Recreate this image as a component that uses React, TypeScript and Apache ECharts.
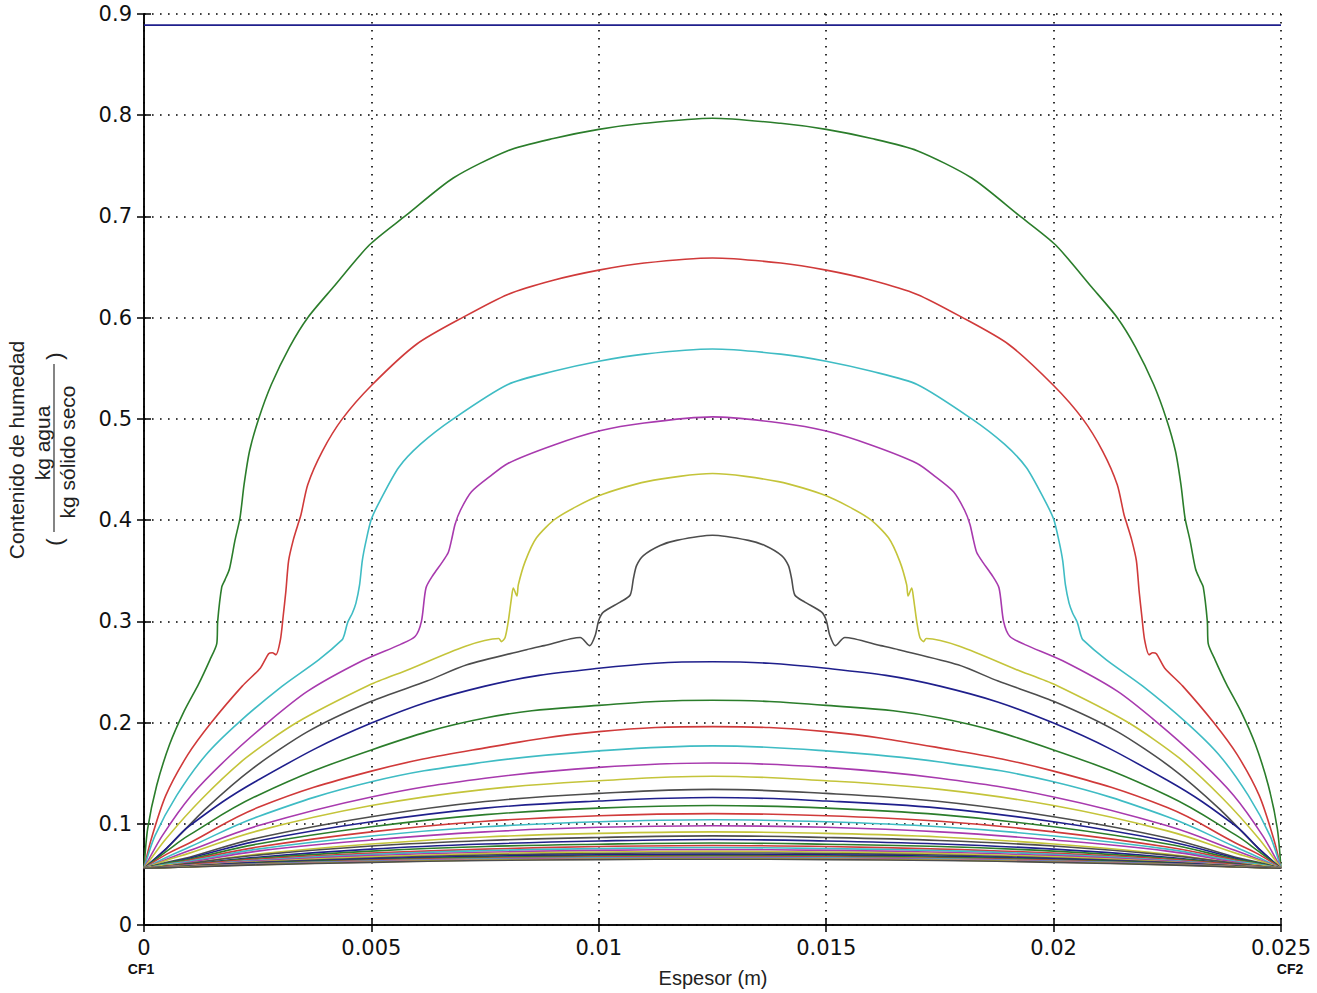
import React, { useEffect, useRef } from "react";
import * as echarts from "echarts";

// ---------- DATA ----------
const X_MAX = 0.025;
const Y_MAX = 0.9;

// Series colours (MATLAB-like cycle)
const COLORS = ["#1f1f8c", "#2b7d2b", "#d03a3a", "#3fbcc4", "#a83aae", "#c4c43a", "#4d4d4d"];

// Initial condition (flat line)
const INITIAL: number[][] = [[0, 0.889], [0.025, 0.889]];

// Half profiles (x from 0 to 0.0125); the profiles are symmetric about the centre
const GREEN_1: number[][] = [
  [0, 0.056], [0.00008, 0.095], [0.00028, 0.138], [0.00056, 0.178], [0.00088, 0.211],
  [0.0012, 0.238], [0.00145, 0.262], [0.0016, 0.278], [0.00162, 0.3], [0.00171, 0.334],
  [0.00178, 0.341], [0.00188, 0.352], [0.002, 0.38], [0.00211, 0.402], [0.0022, 0.435],
  [0.00232, 0.468], [0.00252, 0.5], [0.0028, 0.534], [0.0032, 0.571], [0.0036, 0.6],
  [0.00416, 0.63], [0.00496, 0.672], [0.00576, 0.701], [0.0068, 0.738], [0.008, 0.765],
  [0.009, 0.777], [0.01, 0.786], [0.011, 0.792], [0.0125, 0.797],
];
const RED_1: number[][] = [
  [0, 0.056], [0.00016, 0.085], [0.00048, 0.128], [0.00096, 0.168], [0.00148, 0.2],
  [0.00216, 0.236], [0.00256, 0.254], [0.00274, 0.268], [0.00282, 0.269], [0.0029, 0.267],
  [0.003, 0.282], [0.00306, 0.305], [0.00312, 0.33], [0.00318, 0.36], [0.00328, 0.38],
  [0.00338, 0.395], [0.00345, 0.405], [0.0036, 0.435], [0.00392, 0.468], [0.00436, 0.5],
  [0.005, 0.533], [0.006, 0.574], [0.00704, 0.601], [0.008, 0.623], [0.009, 0.637],
  [0.01, 0.647], [0.011, 0.654], [0.0125, 0.659],
];
const CYAN_1: number[][] = [
  [0, 0.056], [0.00024, 0.088], [0.00072, 0.128], [0.00136, 0.168], [0.00208, 0.2],
  [0.00304, 0.236], [0.00384, 0.262], [0.00436, 0.282], [0.0044, 0.286], [0.00448, 0.299],
  [0.00458, 0.308], [0.00466, 0.318], [0.00474, 0.336], [0.0048, 0.36], [0.00488, 0.379],
  [0.005, 0.401], [0.0052, 0.42], [0.0056, 0.452], [0.00608, 0.475], [0.0068, 0.5],
  [0.008, 0.534], [0.009, 0.547], [0.01, 0.557], [0.011, 0.564], [0.0125, 0.569],
];
const MAGENTA_1: number[][] = [
  [0, 0.056], [0.0004, 0.088], [0.00104, 0.128], [0.00184, 0.165], [0.00272, 0.2],
  [0.0036, 0.231], [0.0048, 0.261], [0.00563, 0.277], [0.00596, 0.285], [0.0061, 0.3],
  [0.0062, 0.333], [0.00636, 0.346], [0.00655, 0.358], [0.00669, 0.368], [0.00676, 0.38],
  [0.00684, 0.396], [0.00696, 0.41], [0.0072, 0.428], [0.0076, 0.443], [0.008, 0.456],
  [0.009, 0.474], [0.01, 0.488], [0.011, 0.496], [0.0125, 0.502],
];
const YELLOW_1: number[][] = [
  [0, 0.056], [0.00048, 0.085], [0.00128, 0.125], [0.00224, 0.165], [0.00336, 0.2],
  [0.005, 0.238], [0.00563, 0.249], [0.0078, 0.283], [0.00786, 0.28], [0.00794, 0.284],
  [0.00801, 0.3], [0.00808, 0.323], [0.00812, 0.333], [0.0082, 0.325], [0.00823, 0.336],
  [0.00838, 0.359], [0.00863, 0.3825], [0.00907, 0.402], [0.01, 0.424], [0.01105, 0.438],
  [0.0125, 0.446],
];
const GRAY_1: number[][] = [
  [0, 0.056], [0.00048, 0.075], [0.00136, 0.115], [0.0024, 0.155], [0.0036, 0.191],
  [0.005, 0.221], [0.00622, 0.241], [0.0071, 0.257], [0.00841, 0.272], [0.0088, 0.276],
  [0.00959, 0.284], [0.0098, 0.276], [0.00992, 0.286], [0.01, 0.301], [0.0101, 0.309],
  [0.01047, 0.319], [0.01069, 0.326], [0.01076, 0.342], [0.01083, 0.355], [0.01098, 0.365],
  [0.01135, 0.375], [0.01171, 0.38], [0.0125, 0.385],
];

// Lower (later-time) profiles, sampled at common x positions (half profile)
const LOWER_X = [0, 0.0005, 0.001, 0.0025, 0.005, 0.0075, 0.01, 0.0125];
const LOWER_VALUES: number[][] = [
  [0.056, 0.076, 0.098, 0.143, 0.1995, 0.236, 0.2536, 0.26],
  [0.056, 0.073, 0.089, 0.128, 0.173, 0.2045, 0.217, 0.222],
  [0.056, 0.07, 0.081, 0.116, 0.152, 0.175, 0.191, 0.196],
  [0.056, 0.067, 0.077, 0.107, 0.1415, 0.161, 0.172, 0.177],
  [0.056, 0.065, 0.0735, 0.098, 0.1265, 0.145, 0.1557, 0.16],
  [0.056, 0.064, 0.071, 0.093, 0.118, 0.134, 0.1425, 0.147],
  [0.056, 0.062, 0.067, 0.086, 0.107, 0.122, 0.13, 0.134],
  [0.056, 0.061, 0.066, 0.083, 0.102, 0.1155, 0.1225, 0.126],
  [0.056, 0.061, 0.065, 0.08, 0.097, 0.109, 0.1155, 0.118],
  [0.056, 0.06, 0.064, 0.077, 0.092, 0.1025, 0.108, 0.11],
  [0.056, 0.06, 0.063, 0.075, 0.088, 0.097, 0.102, 0.104],
  [0.056, 0.059, 0.062, 0.073, 0.084, 0.092, 0.0965, 0.098],
  [0.056, 0.059, 0.061, 0.07, 0.08, 0.087, 0.0905, 0.092],
  [0.056, 0.058, 0.061, 0.069, 0.078, 0.0835, 0.0865, 0.088],
  [0.056, 0.058, 0.06, 0.067, 0.075, 0.08, 0.083, 0.0845],
  [0.056, 0.058, 0.06, 0.066, 0.073, 0.0775, 0.0798, 0.081],
  [0.056, 0.058, 0.0595, 0.065, 0.071, 0.075, 0.0775, 0.0785],
  [0.056, 0.0575, 0.059, 0.064, 0.0698, 0.0735, 0.0755, 0.0765],
  [0.056, 0.0575, 0.059, 0.0633, 0.0685, 0.0718, 0.0737, 0.0745],
  [0.056, 0.0573, 0.0585, 0.0625, 0.0673, 0.0705, 0.0721, 0.0728],
  [0.056, 0.0572, 0.0583, 0.0619, 0.0662, 0.0691, 0.0706, 0.0712],
  [0.056, 0.0571, 0.0581, 0.0614, 0.0653, 0.0679, 0.0693, 0.0698],
  [0.056, 0.057, 0.0579, 0.0609, 0.0645, 0.0669, 0.0681, 0.0686],
  [0.056, 0.0569, 0.0577, 0.0605, 0.0638, 0.066, 0.0672, 0.0676],
  [0.056, 0.0568, 0.0576, 0.0602, 0.0632, 0.0653, 0.0664, 0.0668],
  [0.056, 0.0568, 0.0575, 0.0599, 0.0627, 0.0647, 0.0657, 0.0661],
  [0.056, 0.0567, 0.0574, 0.0596, 0.0623, 0.0642, 0.0651, 0.0655],
  [0.056, 0.0567, 0.0573, 0.0594, 0.0619, 0.0637, 0.0646, 0.065],
];

const X_TICKS_FMT = (v: number) => String(parseFloat(v.toFixed(4)));

// ---------- HELPERS ----------
function mirror(half: number[][]): number[][] {
  const back = half
    .slice(0, -1)
    .reverse()
    .map(([x, y]) => [parseFloat((X_MAX - x).toFixed(6)), y]);
  return half.concat(back);
}

export default function App() {
  const ref = useRef<HTMLDivElement>(null);

  useEffect(() => {
    document.body.style.margin = "0";
    if (!ref.current) return;
    const chart = echarts.init(ref.current, undefined, { renderer: "svg" });

    const upper = [GREEN_1, RED_1, CYAN_1, MAGENTA_1, YELLOW_1, GRAY_1];
    const series: any[] = [];
    series.push({
      type: "line",
      data: INITIAL,
      showSymbol: false,
      lineStyle: { color: COLORS[0], width: 1.6 },
      itemStyle: { color: COLORS[0] },
    });
    upper.forEach((h, i) => {
      const c = COLORS[(i + 1) % COLORS.length];
      series.push({
        type: "line",
        data: mirror(h),
        showSymbol: false,
        smooth: 0.25,
        lineStyle: { color: c, width: 1.6 },
        itemStyle: { color: c },
      });
    });
    LOWER_VALUES.forEach((vals, i) => {
      const c = COLORS[(i + 7) % COLORS.length];
      const half = LOWER_X.map((x, j) => [x, vals[j]]);
      series.push({
        type: "line",
        data: mirror(half),
        showSymbol: false,
        smooth: 0.4,
        lineStyle: { color: c, width: 1.6 },
        itemStyle: { color: c },
      });
    });

    const tickFont = { fontFamily: "DejaVu Sans", fontSize: 21, color: "#111" };
    const axisLine = { show: true, lineStyle: { color: "#000", width: 1.5 } };
    const tick = { show: true, inside: true, length: 7, lineStyle: { color: "#000", width: 1.5 } };
    const split = { show: true, lineStyle: { color: "#000", width: 1.6, type: [1.6, 6.4] as any } };

    chart.setOption({
      animation: false,
      backgroundColor: "#fff",
      grid: { left: 144, right: 36, top: 14, bottom: 68, containLabel: false },
      xAxis: [
        {
          type: "value",
          min: 0,
          max: X_MAX,
          interval: 0.005,
          axisLine,
          axisTick: tick,
          splitLine: split,
          axisLabel: { ...tickFont, margin: 12, formatter: X_TICKS_FMT },
        },
        {
          type: "value",
          position: "top",
          min: 0,
          max: X_MAX,
          interval: 0.005,
          axisLine,
          axisTick: tick,
          splitLine: { show: false },
          axisLabel: { show: false },
        },
      ],
      yAxis: [
        {
          type: "value",
          min: 0,
          max: Y_MAX,
          interval: 0.1,
          axisLine,
          axisTick: tick,
          splitLine: split,
          axisLabel: { ...tickFont, margin: 12, formatter: (v: number) => String(parseFloat(v.toFixed(2))) },
        },
        {
          type: "value",
          position: "right",
          min: 0,
          max: Y_MAX,
          interval: 0.1,
          axisLine,
          axisTick: tick,
          splitLine: { show: false },
          axisLabel: { show: false },
        },
      ],
      series,
      graphic: [
        {
          type: "text",
          x: 713,
          y: 978,
          style: { text: "Espesor (m)", font: "20px 'Liberation Sans', Arial", fill: "#222", align: "center", verticalAlign: "middle" },
        },
        {
          type: "text",
          x: 141,
          y: 969,
          style: { text: "CF1", font: "bold 14px 'Liberation Sans', Arial", fill: "#111", align: "center", verticalAlign: "middle" },
        },
        {
          type: "text",
          x: 1290,
          y: 969,
          style: { text: "CF2", font: "bold 14px 'Liberation Sans', Arial", fill: "#111", align: "center", verticalAlign: "middle" },
        },
        {
          type: "text",
          x: 16,
          y: 450,
          rotation: Math.PI / 2,
          style: { text: "Contenido de humedad", font: "21px 'Liberation Sans', Arial", fill: "#222", align: "center", verticalAlign: "middle" },
        },
        {
          type: "text",
          x: 42,
          y: 443,
          rotation: Math.PI / 2,
          style: { text: "kg agua", font: "21px 'Liberation Sans', Arial", fill: "#222", align: "center", verticalAlign: "middle" },
        },
        {
          type: "text",
          x: 67,
          y: 452,
          rotation: Math.PI / 2,
          style: { text: "kg sólido seco", font: "21px 'Liberation Sans', Arial", fill: "#222", align: "center", verticalAlign: "middle" },
        },
        {
          type: "line",
          shape: { x1: 54, y1: 364, x2: 54, y2: 532 },
          style: { stroke: "#333", lineWidth: 1.2 },
        },
        {
          type: "text",
          x: 54,
          y: 542,
          rotation: Math.PI / 2,
          style: { text: "(", font: "22px 'Liberation Sans', Arial", fill: "#222", align: "center", verticalAlign: "middle" },
        },
        {
          type: "text",
          x: 54,
          y: 356,
          rotation: Math.PI / 2,
          style: { text: ")", font: "22px 'Liberation Sans', Arial", fill: "#222", align: "center", verticalAlign: "middle" },
        },
      ],
    });

    return () => chart.dispose();
  }, []);

  return <div ref={ref} style={{ width: 1317, height: 993 }} />;
}
